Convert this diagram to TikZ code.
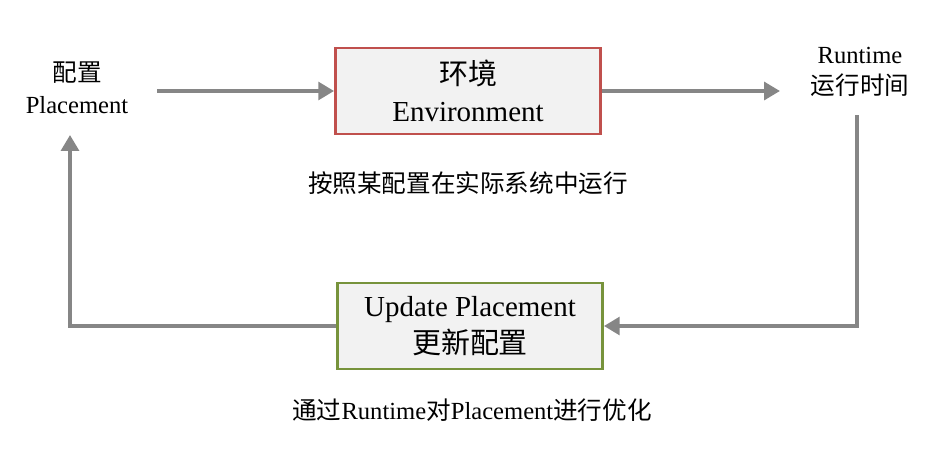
\documentclass[tikz,border=0pt]{standalone}
\usepackage{fontspec}
\setmainfont{Liberation Serif}
\newfontfamily\cjk{Noto Sans CJK SC}
\usetikzlibrary{positioning}
\usetikzlibrary{arrows.meta}
\begin{document}
\begin{tikzpicture}[x=0.02cm,y=-0.02cm,
  flow/.style={draw=gray!95,line width=2.3pt,-{Triangle[length=9pt,width=10pt]}},
  stage/.style={draw,line width=1.6pt,fill=gray!10,minimum width=5.3cm,minimum height=1.72cm,align=center,font=\fontsize{16.5}{21}\selectfont},
  label/.style={align=center,font=\fontsize{14}{18}\selectfont}]
  \useasboundingbox (0,0) rectangle (947,453);
  % boxes
  \node[stage,draw={rgb,255:red,192;green,80;blue,77}] (env) at (468,91) {{\cjk 环境}\\Environment};
  \node[stage,draw={rgb,255:red,119;green,147;blue,60}] (upd) at (470,326) {Update Placement\\{\cjk 更新配置}};
  % texts
  \node[label] (place) at (77,88) {{\cjk 配置}\\Placement};
  \node[label] (run) at (860,72) {Runtime\\{\cjk 运行时间}};
  \node[label] (cap1) at (468,183) {\cjk 按照某配置在实际系统中运行};
  \node[label] (cap2) at (472,410) {{\cjk 通过}Runtime{\cjk 对}Placement{\cjk 进行优化}};
  % connectors
  \coordinate (pright) at (157,91);
  \coordinate (rleft) at (780,91);
  \coordinate (rtop) at (857,115);
  \coordinate (ltop) at (70,135);
  \draw[flow] (pright) -- (env.west);
  \draw[flow] (env.east) -- (rleft);
  \draw[flow] (rtop) |- (upd.east);
  \draw[flow] (upd.west) -| (ltop);
\end{tikzpicture}
\end{document}
